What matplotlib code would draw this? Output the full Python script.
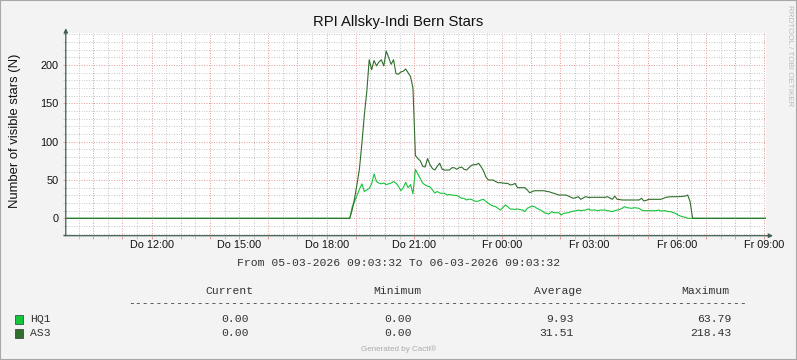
#!/usr/bin/env python3
"""Recreate the Cacti/RRDtool star count graph."""

import matplotlib
matplotlib.use("Agg")
import matplotlib.pyplot as plt
import numpy as np
from matplotlib.patches import Rectangle
from matplotlib.ticker import FixedLocator, FuncFormatter

W, H = 797, 360

# time axis: hours since Do 05-03-2026 00:00
t_start = 9 + 3 / 60 + 32 / 3600
t_end = t_start + 24
first_slot = 18 + 47.5 / 60    # centre of the last zero sample before the night run
slot_hours = 5 / 60            # sample step

hq1 = [
    0,
    15, 22, 30, 38, 45, 35, 37, 39, 45, 58,
    48, 46, 45, 46, 44, 45, 46, 48, 46, 42,
    36, 40, 47, 40, 44, 32, 63.8, 58, 52, 46,
    43.5, 42, 41, 37, 33, 35, 33, 32.6, 32.6, 30.4,
    31, 30.5, 30, 30, 28, 26.1, 26.1, 23.9, 25, 24.8,
    23, 22, 22.6, 23.9, 24.8, 22, 19.6, 17.4, 16, 15.2,
    13, 10.8, 14, 17.4, 15.2, 12.1, 12, 11.7, 12.1, 11.5,
    10.8, 8.7, 13, 14.5, 16, 15.2, 13, 11.5, 9.9, 7.3,
    6.5, 5.6, 8.7, 7.3, 7.3, 7.3, 4.3, 6.5, 7, 7.3,
    8.7, 9.3, 9.9, 10.8, 9.9, 10.5, 10.8, 12.1, 10.8, 10.8,
    10.8, 9.9, 10.8, 10.8, 10.8, 9.9, 9.5, 8.7, 9.9, 10.8,
    11.5, 13, 15.2, 13.9, 13.5, 13, 13.9, 13.5, 13, 10.8,
    9.9, 9.9, 9.9, 9.9, 9.9, 10, 10.8, 9.5, 9.9, 9.9,
    8.7, 8.7, 7.5, 6.5, 4.3, 3, 2, 1.3, 0, 0,
    0,
]

as3 = [
    0,
    11, 26, 45, 65, 98, 135, 165, 207, 194, 206,
    199, 204, 207, 199, 218.4, 210, 201, 207, 189, 188,
    191, 192, 195, 190, 185, 170, 82, 78, 75, 68,
    67, 78, 70, 65, 63, 68, 72, 64, 63, 63,
    63, 66, 66, 64, 66, 67, 64, 63, 66, 69,
    70, 70, 71.8, 67.4, 62, 54, 50, 50, 50, 48,
    46.5, 46.5, 46, 45.6, 45.6, 43.5, 44, 45.6, 40, 40,
    40, 40, 37, 33.4, 34.7, 36, 36, 36, 36, 36,
    35, 34.7, 33.5, 32.6, 31.5, 30.4, 30.4, 30.4, 30.4, 29,
    27.4, 26.1, 27, 28.2, 24.8, 26.5, 28.2, 27.4, 27.4, 27.4,
    27.4, 27.4, 27.4, 27.4, 27.4, 28.2, 26.5, 24.8, 29, 24.8,
    24.5, 23.9, 23.9, 23.9, 23.9, 23.9, 23.9, 23.9, 23.9, 26.1,
    22.6, 23.5, 24.8, 24.8, 24.8, 24.8, 24.8, 24.8, 26, 27.4,
    27.8, 28.2, 28.2, 28.2, 28.2, 28.5, 28.8, 29, 30.4, 21.7,
    0,
]

x_label_hours = [12, 15, 18, 21, 24, 27, 30, 33]
x_labels = ["Do 12:00", "Do 15:00", "Do 18:00", "Do 21:00",
            "Fr 00:00", "Fr 03:00", "Fr 06:00", "Fr 09:00"]
y_ticks = [0, 50, 100, 150, 200]

legend_names = ["HQ1", "AS3"]
legend_current = ["0.00", "0.00"]
legend_minimum = ["0.00", "0.00"]
legend_average = ["9.93", "31.51"]
legend_maximum = ["63.79", "218.43"]

title = "RPI Allsky-Indi Bern Stars"
ylabel = "Number of visible stars (N)"
period = "From 05-03-2026 09:03:32 To 06-03-2026 09:03:32"

HQ1_COLOR = "#14C43A"
AS3_COLOR = "#2F6E2C"
AXIS_COLOR = "#3E5E52"
MINOR_GRID = "#C8C8C8"
MAJOR_GRID = "#E6A0A0"
SANS = "Liberation Sans"
MONO = "Liberation Mono"


def fx(px):
    return px / W


def fy(py):
    return 1 - py / H


def series(values):
    # zero stretches at both ends of the window
    times = first_slot + slot_hours * np.arange(len(values))
    t = np.concatenate([[t_start], times, [t_end]])
    v = np.concatenate([[0], values, [0]])
    return t, v


def main():
    fig = plt.figure(figsize=(W / 100, H / 100), dpi=100)
    fig.patch.set_facecolor("#F3F3F3")
    fig.patches.append(Rectangle((0, 0), 1, 1, transform=fig.transFigure,
                                 fill=False, edgecolor="#A8A8A8", lw=1.5))

    ax = fig.add_axes([fx(65.8), fy(235.7), fx(766 - 65.8), (235.7 - 33.3) / H])
    ax.set_facecolor("white")
    ax.set_xlim(t_start, t_end)
    ax.set_ylim(-22.7, 241.5)

    # grid: grey every 30 min / 10 units, red every hour / 50 units
    hours = list(range(10, 34))
    halves = [h + 0.5 for h in range(9, 33)]
    ax.xaxis.set_major_locator(FixedLocator(hours))
    ax.xaxis.set_minor_locator(FixedLocator(halves))
    lab = dict(zip(x_label_hours, x_labels))
    ax.xaxis.set_major_formatter(FuncFormatter(lambda v, p: lab.get(int(round(v)), "")))
    ax.yaxis.set_major_locator(FixedLocator(y_ticks))
    ax.yaxis.set_minor_locator(FixedLocator([v for v in range(-20, 241, 10) if v % 50]))
    ax.yaxis.set_major_formatter(FuncFormatter(lambda v, p: f"{v:.0f}"))

    ax.grid(which="minor", color=MINOR_GRID, lw=0.72, ls=(0, (1, 1.5)))
    ax.grid(which="major", color=MAJOR_GRID, lw=0.72, ls=(0, (1, 1.5)))
    ax.set_axisbelow(True)

    ax.tick_params(which="major", length=2, width=0.72, color=MAJOR_GRID,
                   labelsize=7.8, labelcolor="#111111")
    ax.tick_params(which="minor", length=2, width=0.72, color=MINOR_GRID)
    ax.tick_params(axis="x", which="major", pad=1.2)
    ax.tick_params(axis="y", which="major", pad=3.4)
    for lbl in ax.get_xticklabels() + ax.get_yticklabels():
        lbl.set_family(SANS)

    for s in ax.spines.values():
        s.set_visible(False)

    t, v = series(hq1)
    ax.plot(t, v, color=HQ1_COLOR, lw=0.8)
    t, v = series(as3)
    ax.plot(t, v, color=AS3_COLOR, lw=0.8)

    # axes with arrow heads
    arrow = dict(arrowstyle="-|>", color=AXIS_COLOR, lw=0.9,
                 mutation_scale=6, shrinkA=0, shrinkB=0)
    ax.annotate("", xy=(0, 1 + 5 / 202), xytext=(0, 0),
                xycoords="axes fraction", arrowprops=arrow, annotation_clip=False)
    ax.annotate("", xy=(1 + 7 / 700, 0), xytext=(-2 / 700, 0),
                xycoords="axes fraction", arrowprops=arrow, annotation_clip=False)

    fig.text(fx(398.5), fy(22), title, ha="center", va="center",
             fontsize=10.7, family=SANS, color="#111111")
    fig.text(fx(15), fy(131), ylabel, ha="center", va="center", rotation=90,
             fontsize=9.4, family=SANS, color="#111111")
    fig.text(fx(789), fy(5), "RRDTOOL / TOBI OETIKER", ha="center", va="top",
             rotation=-90, fontsize=5.8, family=SANS, color="#BBBBBB")

    mono = dict(family=MONO, fontsize=8.2, color="#333333")
    fig.text(fx(398.5), fy(263), period, ha="center", va="center", **mono)

    headers = ["Current", "Minimum", "Average", "Maximum"]
    header_x = [229, 397, 558.5, 705.5]
    for name, x in zip(headers, header_x):
        fig.text(fx(x), fy(291), name, ha="center", va="center", **mono)
    fig.text(fx(128.5), fy(306.5), "-" * 90, ha="left", va="baseline", **mono)

    row_y = [319.5, 333.5]
    colors = [HQ1_COLOR, AS3_COLOR]
    value_x = [249, 412, 574, 731]
    for i, name in enumerate(legend_names):
        y = row_y[i]
        fig.patches.append(Rectangle((fx(15), fy(y + 4.5)), 8 / W, 9 / H,
                                     transform=fig.transFigure, facecolor=colors[i],
                                     edgecolor="#333333", lw=0.5))
        fig.text(fx(30), fy(y), name, ha="left", va="center", **mono)
        cols = [legend_current[i], legend_minimum[i], legend_average[i], legend_maximum[i]]
        for val, x in zip(cols, value_x):
            fig.text(fx(x), fy(y), val, ha="right", va="center", **mono)

    fig.text(fx(398.5), fy(349), "Generated by Cacti\u00ae", ha="center", va="center",
             fontsize=5.8, family=SANS, color="#AAAAAA")

    fig.savefig("out.png", dpi=100, facecolor=fig.get_facecolor())
    plt.close(fig)
    return 0


if __name__ == "__main__":
    raise SystemExit(main())
